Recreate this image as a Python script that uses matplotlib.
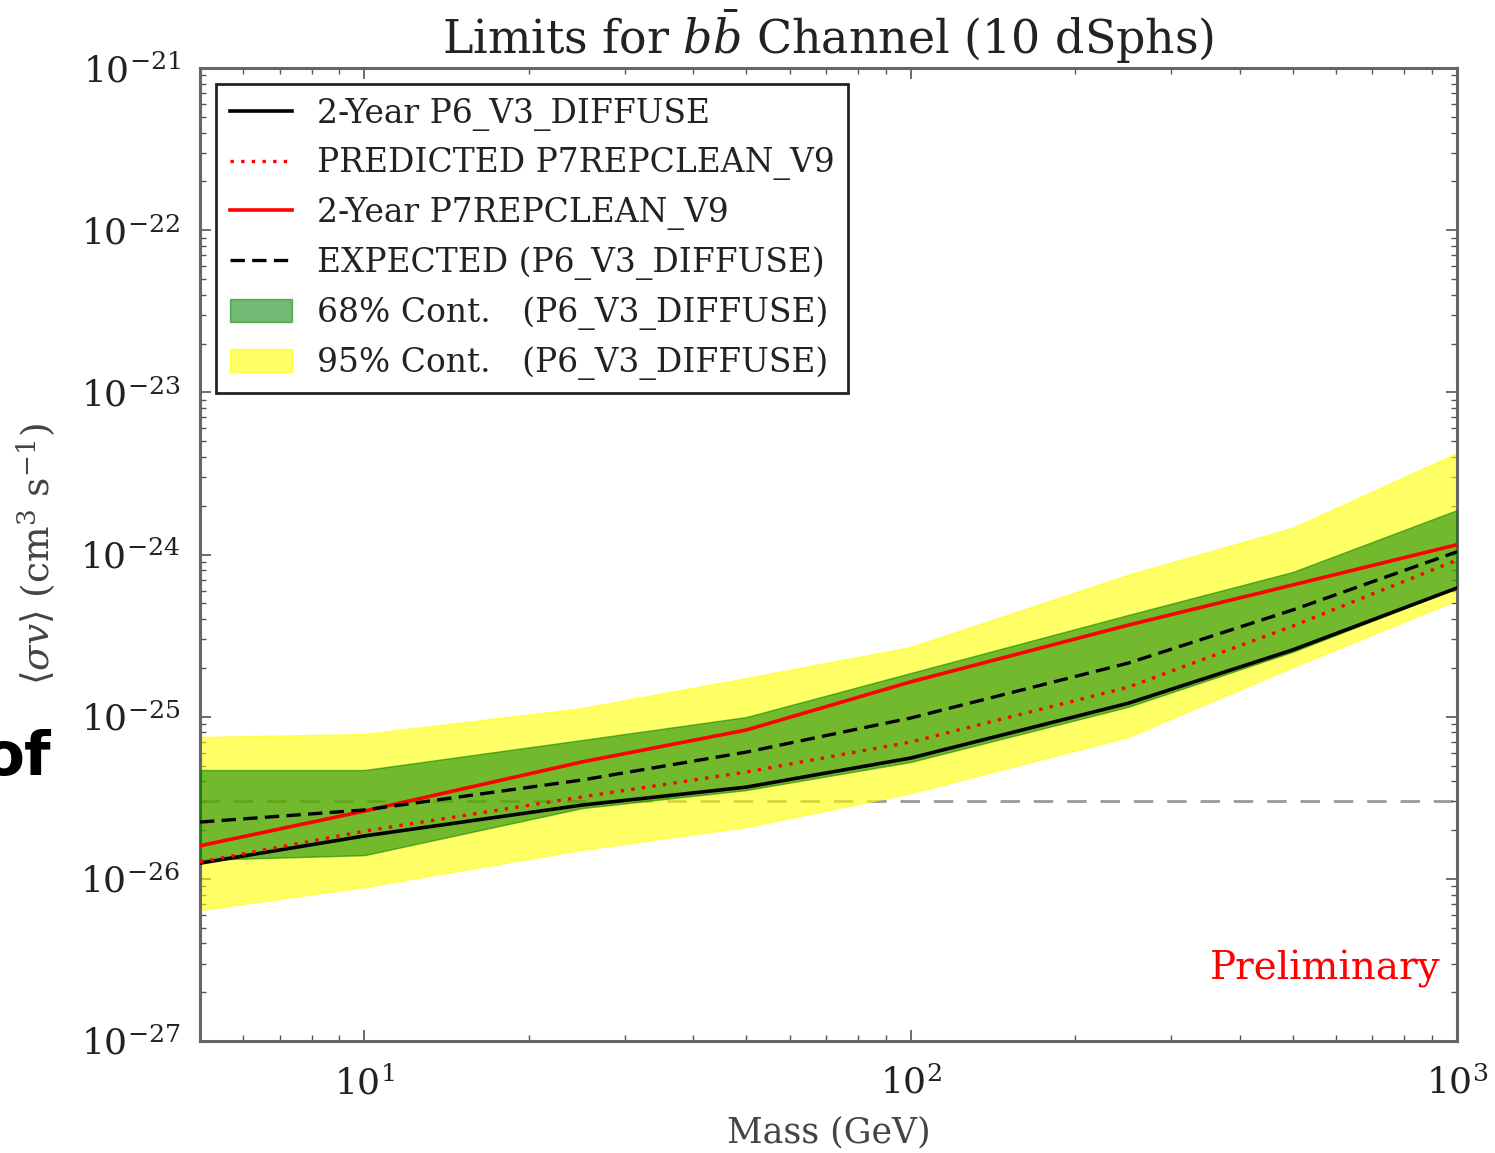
import numpy as np
import matplotlib
matplotlib.use('Agg')
import matplotlib.pyplot as plt
from matplotlib.ticker import FuncFormatter

plt.rcParams['font.family'] = 'DejaVu Serif'
plt.rcParams['mathtext.fontset'] = 'dejavuserif'

# masas (GeV)
mass = [5, 10, 25, 50, 100, 250, 500, 1000]

# limites observados y esperados <sigma v> (cm^3 s^-1)
p6_obs = [1.25e-26, 1.84e-26, 2.85e-26, 3.68e-26, 5.56e-26, 1.21e-25, 2.58e-25, 6.22e-25]
p7_pred = [1.27e-26, 1.97e-26, 3.20e-26, 4.56e-26, 6.98e-26, 1.52e-25, 3.62e-25, 9.25e-25]
p7_obs = [1.60e-26, 2.62e-26, 5.26e-26, 8.28e-26, 1.64e-25, 3.67e-25, 6.49e-25, 1.15e-24]
p6_exp = [2.24e-26, 2.66e-26, 4.07e-26, 6.05e-26, 9.82e-26, 2.14e-25, 4.55e-25, 1.04e-24]

# bandas de contencion
c68_lo = [1.31e-26, 1.40e-26, 2.73e-26, 3.53e-26, 5.26e-26, 1.15e-25, 2.51e-25, 6.22e-25]
c68_hi = [4.69e-26, 4.69e-26, 7.18e-26, 9.95e-26, 1.86e-25, 4.24e-25, 7.80e-25, 1.88e-24]
c95_lo = [6.43e-27, 8.91e-27, 1.51e-26, 2.09e-26, 3.38e-26, 7.50e-26, 2.02e-25, 5.24e-25]
c95_hi = [7.50e-26, 7.82e-26, 1.13e-25, 1.73e-25, 2.69e-25, 7.50e-25, 1.46e-24, 4.23e-24]

thermal = 3e-26

fig = plt.figure(figsize=(14.95, 11.53), dpi=100)
ax = fig.add_axes([0.1338, 0.0971, 0.8408, 0.8439])

ax.axhline(thermal, color='#999999', lw=2, dashes=(7, 5), zorder=1)

b95 = ax.fill_between(mass, c95_lo, c95_hi, facecolor='yellow', edgecolor='yellow',
                      alpha=0.6, lw=1, zorder=2)
b68 = ax.fill_between(mass, c68_lo, c68_hi, facecolor='green', edgecolor='green',
                      alpha=0.55, lw=1, zorder=3)

l1, = ax.plot(mass, p6_obs, color='black', lw=2.6, zorder=5)
l2, = ax.plot(mass, p7_pred, color='red', lw=2.4, dashes=(1, 2.2), zorder=5)
l3, = ax.plot(mass, p7_obs, color='red', lw=2.6, zorder=5)
l4, = ax.plot(mass, p6_exp, color='black', lw=2.4, dashes=(4.3, 2.2), zorder=5)

ax.set_xscale('log')
ax.set_yscale('log')
ax.set_xlim(5, 1000)
ax.set_ylim(1e-27, 1e-21)


def exp_fmt(v, pos):
    e = int(round(np.log10(v)))
    return r'$10^{%d}$' % e


ax.yaxis.set_major_formatter(FuncFormatter(exp_fmt))
ax.xaxis.set_major_formatter(FuncFormatter(exp_fmt))

for s in ax.spines.values():
    s.set_color('#666666')
    s.set_linewidth(2.2)
ax.tick_params(which='both', direction='in', top=True, right=True, colors='#555555',
               labelcolor='#222222', labelsize=26)
ax.tick_params(which='major', length=8, width=1.2)
ax.tick_params(axis='y', which='major', pad=14)
ax.tick_params(axis='x', which='major', pad=18)
ax.tick_params(which='minor', length=4, width=1)

ax.set_title(r'Limits for $b\bar{b}$ Channel (10 dSphs)', fontsize=33, pad=10, color='#222222')
ax.set_xlabel('Mass (GeV)', fontsize=25, color='#444444', labelpad=10)
ax.set_ylabel(r'$\langle\sigma v\rangle\ (\mathrm{cm}^3\ \mathrm{s}^{-1})$', fontsize=27,
              color='#444444', labelpad=16)

ax.text(0.987, 0.063, 'Preliminary', color='red', fontsize=28, ha='right', va='baseline',
        transform=ax.transAxes)

leg = ax.legend([l1, l2, l3, l4, b68, b95],
                ['2-Year P6_V3_DIFFUSE', 'PREDICTED P7REPCLEAN_V9', '2-Year P7REPCLEAN_V9',
                 'EXPECTED (P6_V3_DIFFUSE)', '68% Cont.   (P6_V3_DIFFUSE)',
                 '95% Cont.   (P6_V3_DIFFUSE)'],
                loc='upper left', fontsize=23.7, fancybox=False, framealpha=1,
                edgecolor='#222222', handlelength=1.9, handletextpad=0.75,
                labelspacing=0.5, borderaxespad=0.5, borderpad=0.4)
leg.get_frame().set_linewidth(2)
for t in leg.get_texts():
    t.set_color('#222222')

fig.text(0.034, 0.328, 'of', fontsize=44, fontweight='bold', family='DejaVu Sans',
         ha='right', va='baseline')

fig.savefig('out.png', dpi=100)
